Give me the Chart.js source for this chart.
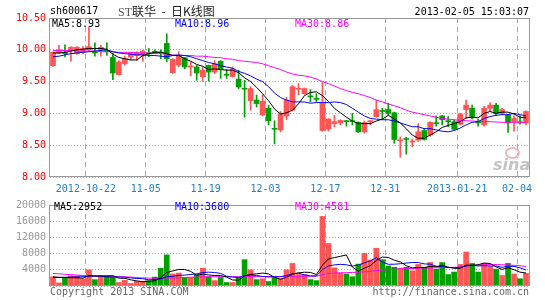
<!DOCTYPE html>
<html>
<head>
<meta charset="utf-8">
<script src="https://cdn.jsdelivr.net/npm/chart.js@4.4.0/dist/chart.umd.min.js"></script>
<style>
body { margin: 0; background: #fff; }
#wrap { position: relative; width: 545px; height: 300px; overflow: hidden; font-family: "DejaVu Sans Mono", monospace; font-size: 10px; }
#wrap canvas { position: absolute; left: 0; }
.t { position: absolute; white-space: pre; line-height: 12px; }
</style>
</head>
<body>
<div id="wrap">
  <canvas id="kline" width="545" height="195" style="top:0"></canvas>
  <canvas id="vol" width="545" height="105" style="top:195px"></canvas>

  <div class="t" style="left:50px;top:5px;color:#000">sh600617</div>
  <div class="t" style="left:118px;top:4px;font-family:'Noto Sans CJK SC';font-size:12px;line-height:14px;color:#222"><span style="font-family:'Liberation Serif';color:#555">ST</span>联华  -  日K线图</div>
  <div class="t" style="right:16px;top:6px;color:#000">2013-02-05 15:03:07</div>

  <div class="t" style="left:52px;top:18px;color:#000">MA5:8.93</div>
  <div class="t" style="left:175px;top:18px;color:#0000ff">MA10:8.96</div>
  <div class="t" style="left:295px;top:18px;color:#ff00ff">MA30:8.86</div>

  <div class="t" style="left:54px;top:201px;color:#000">MA5:2952</div>
  <div class="t" style="left:175px;top:201px;color:#0000ff">MA10:3680</div>
  <div class="t" style="left:295px;top:201px;color:#ff00ff">MA30:4581</div>

  <div class="t" style="left:505px;top:147px;width:11px;height:8px;border:2px solid #f3b4b4;border-radius:50%"></div>
  <div class="t" style="left:493px;top:157px;font-family:'DejaVu Sans';font-style:italic;font-weight:bold;font-size:16px;line-height:16px;color:#c4c4c4">sina</div>

  <div class="t" style="left:50px;top:286px;color:#666">Copyright 2013 SINA.COM</div>
  <div class="t" style="right:16px;top:286px;color:#666">http://finance.sina.com.cn</div>
</div>

<script>
// trading days
const dates = [
  '2012-10-12','2012-10-15','2012-10-16','2012-10-17','2012-10-18','2012-10-19','2012-10-22','2012-10-23','2012-10-24','2012-10-25',
  '2012-10-26','2012-10-29','2012-10-30','2012-10-31','2012-11-01','2012-11-02','2012-11-05','2012-11-06','2012-11-07','2012-11-08',
  '2012-11-09','2012-11-12','2012-11-13','2012-11-14','2012-11-15','2012-11-16','2012-11-19','2012-11-20','2012-11-21','2012-11-22',
  '2012-11-23','2012-11-26','2012-11-27','2012-11-28','2012-11-29','2012-11-30','2012-12-03','2012-12-04','2012-12-05','2012-12-06',
  '2012-12-07','2012-12-10','2012-12-11','2012-12-12','2012-12-13','2012-12-14','2012-12-17','2012-12-18','2012-12-19','2012-12-20',
  '2012-12-21','2012-12-24','2012-12-25','2012-12-26','2012-12-27','2012-12-28','2012-12-31','2013-01-04','2013-01-07','2013-01-08',
  '2013-01-09','2013-01-10','2013-01-11','2013-01-14','2013-01-15','2013-01-16','2013-01-17','2013-01-18','2013-01-21','2013-01-22',
  '2013-01-23','2013-01-24','2013-01-25','2013-01-28','2013-01-29','2013-01-30','2013-01-31','2013-02-01','2013-02-04','2013-02-05'
];

// labelled dates on the x axis
const tickDates = ['2012-10-22','2012-11-05','2012-11-19','2012-12-03','2012-12-17','2012-12-31','2013-01-21','2013-02-04'];
const tickTexts = ['2012-10-22','11-05','11-19','12-03','12-17','12-31','2013-01-21','02-04'];

const open = [
  9.75,9.95,9.96,9.99,9.94,9.96,10.00,9.96,10.00,9.985,
  9.88,9.61,9.78,9.885,9.91,9.92,9.945,9.97,9.96,10.10,
  9.64,9.76,9.875,9.73,9.73,9.575,9.755,9.65,9.82,9.61,
  9.58,9.54,9.39,9.20,9.21,8.975,9.08,8.76,8.74,8.96,
  9.05,9.38,9.31,9.27,9.23,8.73,8.755,8.84,8.85,8.88,
  8.88,8.86,8.71,8.87,8.95,9.04,9.06,9.01,8.57,8.60,
  8.55,8.58,8.73,8.66,8.85,8.96,8.88,8.87,8.83,9.06,
  9.08,8.86,8.82,9.08,9.13,9.00,8.97,8.87,8.86,8.85
];
const high = [
  9.97,10.07,10.08,10.05,10.05,10.05,10.36,10.11,10.07,10.11,
  9.95,9.83,9.90,9.96,9.97,9.99,10.02,10.00,10.00,10.25,
  9.86,9.97,9.88,9.81,9.755,9.73,9.76,9.83,9.83,9.69,
  9.73,9.68,9.52,9.42,9.29,9.29,9.13,8.885,9.03,9.25,
  9.44,9.47,9.40,9.375,9.31,9.49,8.92,8.97,8.90,8.89,
  9.00,8.87,8.88,8.89,9.21,9.08,9.16,9.02,8.63,8.625,
  8.60,8.84,8.76,8.87,8.96,8.97,8.95,8.90,9.00,9.21,
  9.13,8.91,9.11,9.17,9.16,9.08,8.98,8.96,8.96,9.04
];
const low = [
  9.74,9.94,9.89,9.82,9.93,9.94,9.99,9.90,9.90,9.91,
  9.53,9.60,9.76,9.84,9.83,9.82,9.89,9.94,9.86,9.81,
  9.63,9.73,9.70,9.59,9.52,9.505,9.505,9.625,9.55,9.55,
  9.57,9.39,8.94,9.05,9.10,8.96,8.82,8.52,8.71,8.90,
  9.04,9.29,9.30,9.18,9.18,8.72,8.72,8.79,8.82,8.80,
  8.82,8.70,8.69,8.82,8.94,8.91,8.97,8.53,8.31,8.36,
  8.48,8.56,8.58,8.64,8.80,8.82,8.79,8.74,8.82,8.92,
  8.91,8.80,8.80,9.03,8.97,8.98,8.70,8.72,8.83,8.82
];
const close = [
  9.96,10.00,9.94,10.04,10.04,10.02,10.05,9.95,10.04,9.975,
  9.635,9.81,9.86,9.94,9.96,9.98,9.935,9.96,9.95,9.86,
  9.85,9.91,9.73,9.74,9.635,9.68,9.65,9.78,9.69,9.60,
  9.70,9.415,9.38,9.39,9.155,9.19,8.885,8.75,8.99,9.21,
  9.42,9.39,9.39,9.26,9.22,9.16,8.91,8.87,8.89,8.87,
  8.87,8.71,8.855,8.88,9.06,9.03,9.00,8.59,8.58,8.59,
  8.56,8.71,8.59,8.86,8.84,8.90,8.87,8.75,8.99,9.13,
  8.95,8.85,9.08,9.13,9.00,9.06,8.85,8.92,8.85,9.03
];
const ma5 = [
  9.95,9.95,9.96,9.98,10.00,10.01,10.02,10.02,10.02,10.01,
  9.93,9.88,9.86,9.84,9.84,9.91,9.94,9.96,9.96,9.94,
  9.91,9.91,9.86,9.82,9.77,9.74,9.69,9.70,9.69,9.68,
  9.68,9.64,9.56,9.50,9.41,9.31,9.20,9.07,8.99,9.01,
  9.05,9.15,9.28,9.33,9.34,9.28,9.19,9.08,9.01,8.94,
  8.88,8.84,8.84,8.84,8.88,8.91,8.97,8.91,8.85,8.76,
  8.66,8.61,8.61,8.66,8.71,8.78,8.81,8.84,8.87,8.93,
  8.94,8.93,9.00,9.03,9.00,9.02,9.02,8.99,8.94,8.93
];
const ma10 = [
  9.89,9.90,9.92,9.94,9.95,9.96,9.97,9.98,9.99,10.00,
  9.97,9.95,9.94,9.93,9.92,9.92,9.91,9.91,9.90,9.89,
  9.91,9.92,9.91,9.89,9.86,9.83,9.80,9.78,9.75,9.73,
  9.71,9.66,9.63,9.59,9.54,9.50,9.42,9.32,9.25,9.21,
  9.18,9.18,9.18,9.16,9.17,9.17,9.17,9.18,9.17,9.14,
  9.08,9.02,8.96,8.92,8.91,8.90,8.90,8.88,8.85,8.82,
  8.79,8.79,8.76,8.76,8.74,8.72,8.71,8.73,8.77,8.82,
  8.86,8.87,8.92,8.95,8.97,8.98,8.98,9.00,8.98,8.96
];
const ma30 = [
  9.99,9.99,9.99,9.99,9.98,9.98,9.98,9.98,9.97,9.97,
  9.97,9.96,9.96,9.96,9.95,9.95,9.95,9.94,9.94,9.93,
  9.92,9.91,9.91,9.91,9.90,9.90,9.89,9.88,9.875,9.86,
  9.85,9.83,9.82,9.81,9.80,9.78,9.75,9.72,9.69,9.65,
  9.62,9.60,9.59,9.57,9.54,9.50,9.47,9.43,9.39,9.36,
  9.33,9.31,9.28,9.25,9.21,9.18,9.15,9.12,9.09,9.05,
  9.02,9.00,8.98,8.96,8.94,8.92,8.91,8.90,8.89,8.885,
  8.88,8.875,8.87,8.87,8.865,8.86,8.86,8.86,8.86,8.86
];

const volume = [
  2270,780,2100,2500,2500,1800,4000,1570,2500,2500,
  2200,860,1400,630,1180,1180,1330,2200,4400,7680,
  2980,3200,2100,2100,2820,4400,2270,1330,2100,860,
  860,2100,6500,4000,1570,1800,1100,2100,1800,4000,
  5570,2820,2820,1570,1330,17170,10500,4470,3200,2980,
  2270,5400,8070,6430,9330,6500,4940,4630,4400,4630,
  3760,5330,4630,5800,4150,5800,2820,3450,5330,8390,
  5570,3450,5570,4780,4150,2590,5570,2980,1800,3140
];
const volMa5 = [
  2250,2150,2100,2050,2030,1936,2580,2474,2474,2474,
  2554,1926,1892,1518,1254,1050,1144,1304,2058,3358,
  3718,4092,4072,3612,2640,2924,2738,2584,2584,2192,
  1484,1450,2484,2864,3006,3194,2994,2114,1674,2160,
  2914,3258,3402,3356,2822,5142,6678,7008,7334,7664,
  4684,3664,4384,5030,6300,7146,7054,6366,5960,5020,
  4472,4550,4550,4830,4734,5142,4640,4404,4310,5158,
  5112,5238,5662,5552,4704,4108,4532,4014,3418,3216
];
const volMa10 = [
  2100,2100,2150,2200,2250,2300,2400,2450,2450,2252,
  2245,2253,2183,1996,1864,1802,1535,1598,1788,2306,
  2384,2618,2688,2835,2999,3321,3415,3328,3098,2416,
  2204,2094,2534,2724,2599,2339,2222,2299,2269,2583,
  3054,3126,2758,2515,2491,4028,4968,5205,5345,5243,
  4913,5171,5696,6182,6982,5915,5359,5375,5495,5660,
  5809,5802,5458,5395,4877,4807,4595,4477,4570,4946,
  5127,4939,5033,4931,4931,4610,4885,4838,4485,3960
];
const volMa30 = [
  3100,3000,2900,2800,2700,2600,2500,2450,2400,2400,
  2350,2300,2250,2200,2100,2000,1950,1900,1900,1950,
  2000,2050,2100,2150,2200,2250,2300,2300,2300,2300,
  2300,2300,2350,2350,2350,2350,2350,2350,2350,2350,
  2400,2400,2400,2400,2400,2800,3100,3200,3250,3300,
  3350,3400,3500,3600,3800,3950,4050,4150,4250,4300,
  4350,4400,4450,4450,4500,4550,4550,4600,4700,4900,
  5100,5200,5250,5300,5300,5250,5200,5100,5000,4800
];

const UP = '#ff5555';
const DOWN = '#00a000';
const candleColors = close.map((c, i) => c >= open[i] ? UP : DOWN);
const monoFont = { family: 'DejaVu Sans Mono', size: 10 };

// grey border round the plot area
const framePlugin = {
  id: 'frame',
  afterDraw(chart) {
    const { ctx, chartArea: a } = chart;
    ctx.save();
    ctx.strokeStyle = '#999999';
    ctx.lineWidth = 1;
    ctx.strokeRect(Math.round(a.left) - 0.5, Math.round(a.top) + 0.5, Math.round(a.width) + 1, Math.round(a.height) - 1);
    ctx.restore();
  }
};

function dateGrid(ctx) {
  return tickDates.includes(dates[ctx.index]) ? '#a6a6a6' : 'rgba(0,0,0,0)';
}

function lineSet(label, data, color) {
  return { type: 'line', label: label, data: data, borderColor: color, borderWidth: 1,
           pointRadius: 0, tension: 0, fill: false, order: 0 };
}

const klineChart = new Chart(document.getElementById('kline').getContext('2d'), {
  type: 'bar',
  data: {
    labels: dates,
    datasets: [
      lineSet('MA5', ma5, '#000000'),
      lineSet('MA10', ma10, '#0000ff'),
      lineSet('MA30', ma30, '#ff00ff'),
      { type: 'bar', label: 'body', data: open.map((o, i) => [o, close[i]]),
        backgroundColor: candleColors, barThickness: 5, grouped: false, minBarLength: 1, order: 1 },
      { type: 'bar', label: 'wick', data: low.map((l, i) => [l, high[i]]),
        backgroundColor: candleColors, barThickness: 1, grouped: false, order: 2 }
    ]
  },
  options: {
    responsive: false,
    animation: false,
    events: [],
    layout: { padding: { top: 18, right: 16, left: 0, bottom: 0 } },
    plugins: { legend: { display: false }, tooltip: { enabled: false } },
    scales: {
      x: {
        offset: true,
        grid: { offset: true, drawTicks: false, color: dateGrid },
        border: { display: false, dash: [5, 4] },
        ticks: {
          autoSkip: false, maxRotation: 0, padding: 6, labelOffset: -3,
          color: '#1e80c8', font: monoFont,
          callback: (v, i) => {
            const k = tickDates.indexOf(dates[i]);
            return k < 0 ? '' : tickTexts[k];
          }
        },
        afterFit: (s) => { s.height = 18; }
      },
      y: {
        min: 8, max: 10.5,
        grid: { drawTicks: false, color: '#b0b0b0' },
        border: { display: false, dash: [1, 2] },
        ticks: { stepSize: 0.5, padding: 4, color: '#ff0000', font: monoFont, callback: (v) => v.toFixed(2) },
        afterFit: (s) => { s.width = 50; }
      }
    }
  },
  plugins: [framePlugin]
});

const volChart = new Chart(document.getElementById('vol').getContext('2d'), {
  type: 'bar',
  data: {
    labels: dates,
    datasets: [
      lineSet('MA5', volMa5, '#000000'),
      lineSet('MA10', volMa10, '#0000ff'),
      lineSet('MA30', volMa30, '#ff00ff'),
      { type: 'bar', label: 'volume', data: volume, backgroundColor: candleColors,
        barThickness: 5, order: 1 }
    ]
  },
  options: {
    responsive: false,
    animation: false,
    events: [],
    layout: { padding: { top: 6, right: 16, left: 0, bottom: 14 } },
    plugins: { legend: { display: false }, tooltip: { enabled: false } },
    scales: {
      x: {
        offset: true,
        grid: { offset: true, drawTicks: false, color: dateGrid },
        border: { display: false, dash: [5, 4] },
        ticks: { display: false },
        afterFit: (s) => { s.height = 0; }
      },
      y: {
        min: 0, max: 20000,
        grid: { drawTicks: false, color: '#b0b0b0' },
        border: { display: false, dash: [1, 2] },
        ticks: { stepSize: 4000, padding: 4, color: '#999999', font: monoFont, callback: (v) => v === 0 ? '' : v },
        afterFit: (s) => { s.width = 50; }
      }
    }
  },
  plugins: [framePlugin]
});
</script>
</body>
</html>
